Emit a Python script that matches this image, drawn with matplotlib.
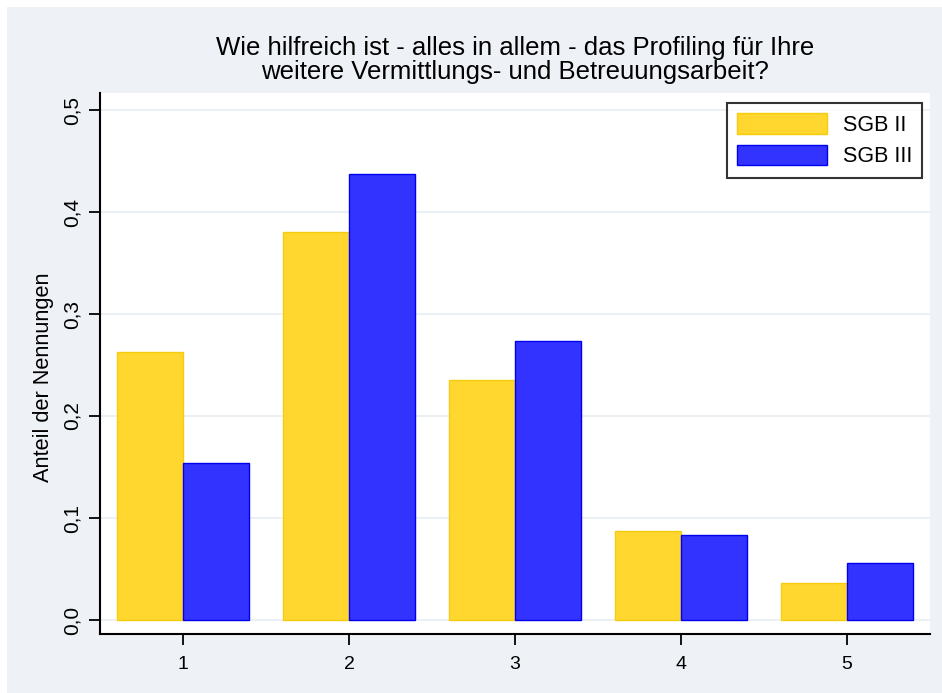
import matplotlib
matplotlib.use("Agg")
import matplotlib.pyplot as plt
from matplotlib.patches import Rectangle
import numpy as np

categories = [1, 2, 3, 4, 5]
sgb2 = [0.263, 0.380, 0.235, 0.087, 0.036]
sgb3 = [0.154, 0.437, 0.274, 0.083, 0.056]
yticks = [0.0, 0.1, 0.2, 0.3, 0.4, 0.5]
ytick_labels = ["0,0", "0,1", "0,2", "0,3", "0,4", "0,5"]
series_labels = ["SGB II", "SGB III"]
title = "Wie hilfreich ist - alles in allem - das Profiling für Ihre\nweitere Vermittlungs- und Betreuungsarbeit?"
ylabel = "Anteil der Nennungen"

plt.rcParams['font.family'] = ['Liberation Sans', 'DejaVu Sans']

W, H = 942, 693
fig = plt.figure(figsize=(W / 100, H / 100), dpi=100)
fig.patch.set_facecolor("white")
bg = "#eef1f6"
fig.patches.append(Rectangle((7 / W, 0), 1 - 7 / W, 1 - 7 / H, transform=fig.transFigure,
                             facecolor=bg, edgecolor="none", zorder=-5))

left, right, top, bottom = 100, 930, 93, 634
ax = fig.add_axes([left / W, 1 - bottom / H, (right - left) / W, (bottom - top) / H])
ax.set_zorder(2)
ax.set_facecolor("white")

x = np.array(categories, dtype=float)
w = 0.4
ax.bar(x - w / 2, sgb2, width=w, color="#ffd72e", edgecolor="#f7cc10", linewidth=1,
       label=series_labels[0], zorder=3)
ax.bar(x + w / 2, sgb3, width=w, color="#3333ff", edgecolor="#0000ee", linewidth=1,
       label=series_labels[1], zorder=3)

ax.set_xlim(0.5, 5.5)
ax.set_ylim(-0.0137, 0.5167)
ax.set_yticks(yticks)
ax.set_yticklabels(ytick_labels, rotation=90, va="center", fontsize=15)
ax.set_xticks(categories)
ax.set_xticklabels([str(c) for c in categories], fontsize=14)
ax.tick_params(axis="both", direction="out", length=8, width=1.3, color="black")
ax.tick_params(axis="y", pad=5)
ax.tick_params(axis="x", pad=8)
for yv in yticks:
    ax.axhline(yv, color="#e8eef4", linewidth=1.2, zorder=1)

for s in ["top", "right"]:
    ax.spines[s].set_visible(False)
for s in ["left", "bottom"]:
    ax.spines[s].set_linewidth(1.5)
    ax.spines[s].set_color("black")

ax.set_ylabel(ylabel, fontsize=15.7)
ax.yaxis.set_label_coords((54 - left) / (right - left), (bottom - 377) / (bottom - top))
fig.text((left + right) / 2 / W, 1 - 60 / H, title, ha="center", va="center",
         fontsize=18.5, linespacing=0.97)

leg = ax.legend(loc="upper right", bbox_to_anchor=(1.0 - 8 / (right - left), 1 - 10 / (bottom - top)),
                frameon=True, fancybox=False, edgecolor="black", fontsize=15.5,
                handlelength=4.14, handleheight=1.1, borderpad=0.47, labelspacing=0.42,
                handletextpad=0.74, borderaxespad=0)
leg.get_frame().set_linewidth(1.5)

fig.savefig("out.png", dpi=100, facecolor=fig.get_facecolor())
